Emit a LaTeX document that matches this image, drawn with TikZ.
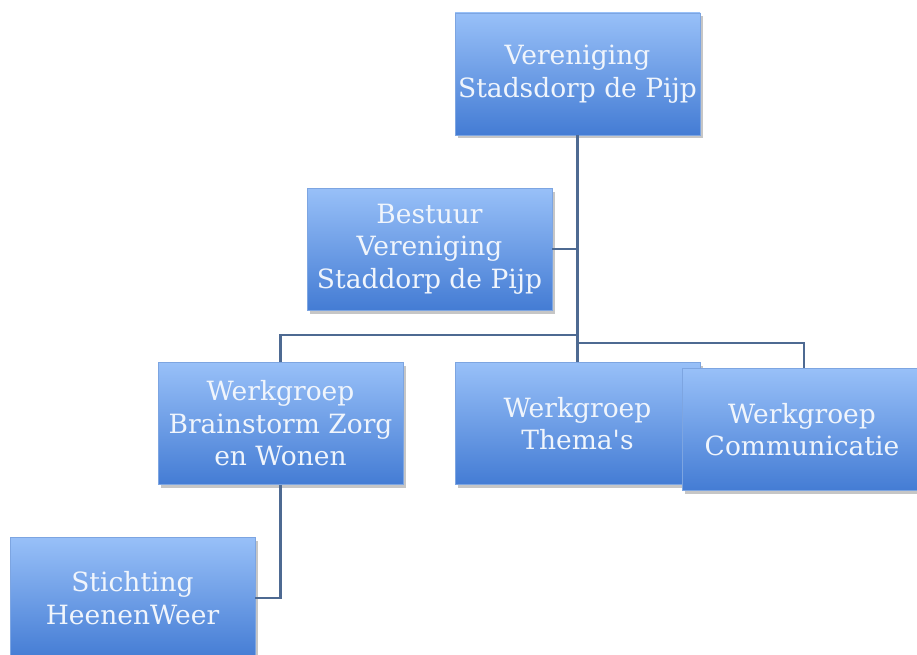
\documentclass[tikz,border=0pt]{standalone}
\usepackage{fontspec}
\setmainfont{DejaVu Serif}
\usetikzlibrary{shadows}
\definecolor{boxtop}{RGB}{152,192,248}
\definecolor{boxbot}{RGB}{68,124,212}
\definecolor{boxrim}{RGB}{125,165,225}
\definecolor{linecol}{RGB}{78,106,146}
\definecolor{boxtext}{RGB}{240,245,252}

\begin{document}
\begin{tikzpicture}[x=1pt, y=-1pt,
  unit/.style={draw=boxrim, line width=0.6pt, top color=boxtop, bottom color=boxbot,
    minimum width=245pt, minimum height=122pt, inner sep=0pt, align=center,
    text=boxtext, font=\fontsize{26.5}{32.5}\selectfont,
    drop shadow={shadow xshift=2.5pt, shadow yshift=-3.5pt, opacity=0.45}},
  wire/.style={draw=linecol, line width=2.2pt}]

  \useasboundingbox (0,0) rectangle (917,655);

  %% connectors first, boxes on top
  \coordinate (bus) at (578,335);
  \coordinate (bend) at (804,343);

  \node[unit] (vsp) at (577.5,74) {Vereniging\\Stadsdorp de Pijp};
  \node[unit] (bestuur) at (429.5,249) {Bestuur\\Vereniging\\Staddorp de Pijp};
  \node[unit] (thema) at (577.5,423.5) {Werkgroep\\Thema\textquotesingle s};
  \node[unit] (brain) at (280.5,423.5) {Werkgroep\\Brainstorm Zorg\\en Wonen};
  \node[unit] (sticht) at (132.5,598) {Stichting\\HeenenWeer};

  \draw[wire] (vsp.south) -- (thema.north); %% spine
  \draw[wire] (bestuur.east) -- (bestuur.east -| vsp.south);
  \draw[wire] (bus) -| (brain.north);
  \draw[wire] (vsp.south |- bend) -- (bend) -- (bend |- 0,368);
  \draw[wire] (brain.south) |- (sticht.east);

  \node[unit, minimum width=240pt] (comm) at (802,429.5) {Werkgroep\\Communicatie};
\end{tikzpicture}
\end{document}
